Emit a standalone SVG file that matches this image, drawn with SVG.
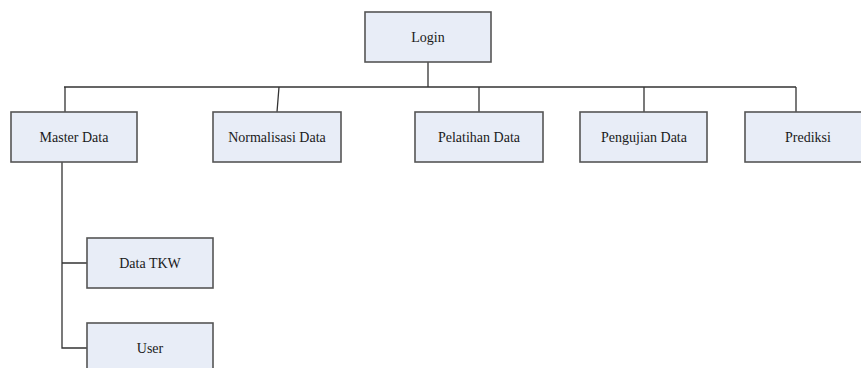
<svg xmlns="http://www.w3.org/2000/svg" width="861" height="368" viewBox="0 0 861 368">
<style>
.box{fill:#e8edf7;stroke:#555;stroke-width:1.6}
.con{fill:none;stroke:#333;stroke-width:1.3}
</style>
<rect width="861" height="368" fill="#fff"/>
<g id="connectors">
<path class="con" d="M428 62V87M64 87H796M65 87V112M279 87L277 112M479 87V112M644 87V112M796 87V112"/>
<path class="con" d="M62 162V348H87M62 263H87"/>
</g>
<g font-family="Liberation Serif, DejaVu Serif, serif" font-size="14" fill="#1a1a1a" text-anchor="middle">
<g id="login"><rect class="box" x="365" y="12" width="126" height="50"/><text x="428" y="42">Login</text></g>
<g id="master"><rect class="box" x="11" y="112" width="126" height="50"/><text x="74" y="142">Master Data</text></g>
<g id="normalisasi"><rect class="box" x="213" y="112" width="128" height="50"/><text x="277" y="142">Normalisasi Data</text></g>
<g id="pelatihan"><rect class="box" x="415" y="112" width="128" height="50"/><text x="479" y="142">Pelatihan Data</text></g>
<g id="pengujian"><rect class="box" x="580" y="112" width="127" height="50"/><text x="644" y="142">Pengujian Data</text></g>
<g id="prediksi"><rect class="box" x="745" y="112" width="127" height="50"/><text x="808" y="142">Prediksi</text></g>
<g id="datatkw"><rect class="box" x="87" y="238" width="126" height="50"/><text x="150" y="268">Data TKW</text></g>
<g id="user"><rect class="box" x="87" y="323" width="126" height="50"/><text x="150" y="353">User</text></g>
</g>
</svg>
